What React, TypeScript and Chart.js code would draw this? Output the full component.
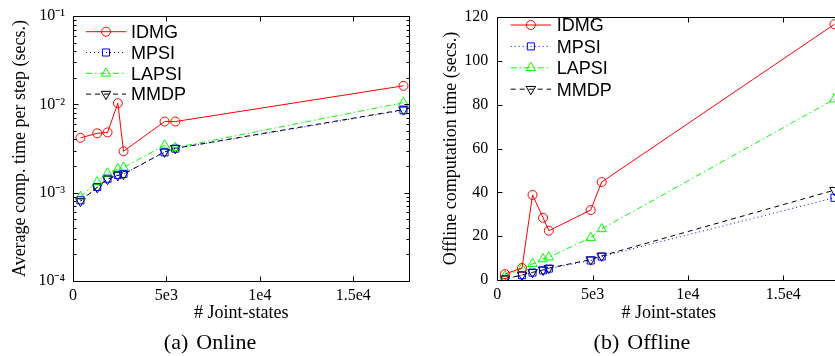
import React, { useEffect, useRef } from "react";
import { Chart, registerables } from "chart.js";
Chart.register(...registerables);

// ---------- data ----------
const jointStates = [400, 1296, 1849, 2401, 2704, 4900, 5476, 17689];
const seriesNames = ["IDMG", "MPSI", "LAPSI", "MMDP"];

const onlineIDMG = [0.00418, 0.0047, 0.00481, 0.0103, 0.00294, 0.00638, 0.00638, 0.0162];
const onlineMPSI = [0.00082, 0.00116, 0.00144, 0.00159, 0.00163, 0.00286, 0.00315, 0.00857];
const onlineLAPSI = [0.0009, 0.00132, 0.00166, 0.00185, 0.00193, 0.00344, 0.00323, 0.01045];
const onlineMMDP = [0.0008, 0.00115, 0.00142, 0.00157, 0.00162, 0.0029, 0.00318, 0.0087];

const offlineIDMG = [2.7, 5.5, 38.8, 28.4, 22.5, 31.9, 44.7, 116.7];
const offlineMPSI = [0.4, 2.2, 3.4, 4.4, 5.2, 8.9, 10.7, 37.5];
const offlineLAPSI = [1.8, 5.2, 7.4, 9.6, 10.4, 19.3, 23.3, 82.5];
const offlineMMDP = [0.5, 2.3, 3.5, 4.6, 5.4, 9.3, 11.0, 41.0];

const xTicks = [0, 5000, 10000, 15000];
const xTickLabels = ["0", "5e3", "1e4", "1.5e4"];
const logTicks = [1e-4, 1e-3, 1e-2, 1e-1];
const logTickLabels = ["10⁻⁴", "10⁻³", "10⁻²", "10⁻¹"];
const linTicks = [0, 20, 40, 60, 80, 100, 120];
const linTickLabels = ["0", "20", "40", "60", "80", "100", "120"];

const xTitle = "# Joint-states";
const onlineYTitle = "Average comp. time per step (secs.)";
const offlineYTitle = "Offline computation time (secs.)";
const onlineCaption = ["(a)", "Online"];
const offlineCaption = ["(b)", "Offline"];

// ---------- styles ----------
const seriesStyles = [
  { color: "rgb(255,0,0)", dash: [] as number[], point: "circle", radius: 4.5, rotation: 0 },
  { color: "rgb(0,0,255)", dash: [1, 3], point: "rect", radius: 5, rotation: 0 },
  { color: "rgb(0,255,0)", dash: [6, 3, 1.5, 3], point: "triangle", radius: 5.5, rotation: 0 },
  { color: "rgb(0,0,0)", dash: [5, 4], point: "triangle", radius: 5.5, rotation: 180 },
];

const serif = '"Liberation Serif", "Times New Roman", serif';
const sans = '"Liberation Sans", Arial, sans-serif';
const tickFont = { family: serif, size: 16, lineHeight: 1.0 };
const titleFont = { family: serif, size: 18, lineHeight: 1.2 };

function drawMarker(ctx: CanvasRenderingContext2D, kind: string, x: number, y: number, r: number, rot: number) {
  ctx.beginPath();
  if (kind === "circle") {
    ctx.arc(x, y, r, 0, Math.PI * 2);
  } else if (kind === "rect") {
    const s = Math.SQRT1_2 * r;
    ctx.rect(x - s, y - s, 2 * s, 2 * s);
  } else {
    let rad = (rot * Math.PI) / 180;
    ctx.moveTo(x + Math.sin(rad) * r, y - Math.cos(rad) * r);
    rad += (2 * Math.PI) / 3;
    ctx.lineTo(x + Math.sin(rad) * r, y - Math.cos(rad) * r);
    rad += (2 * Math.PI) / 3;
    ctx.lineTo(x + Math.sin(rad) * r, y - Math.cos(rad) * r);
    ctx.closePath();
  }
  ctx.stroke();
}

const framePlugin = {
  id: "frame",
  afterDatasetsDraw(chart: any) {
    const { ctx, chartArea: a, scales } = chart;
    ctx.save();
    ctx.strokeStyle = "#000";
    ctx.lineWidth = 1;
    ctx.setLineDash([]);
    const L = Math.round(a.left) + 0.5, R = Math.round(a.right) + 0.5;
    const T = Math.round(a.top) + 0.5, B = Math.round(a.bottom) + 0.5;
    ctx.beginPath();
    ctx.rect(L, T, R - L, B - T);
    const major = 5, minor = 3;
    scales.x.ticks.forEach((t: any) => {
      const px = Math.round(scales.x.getPixelForValue(t.value)) + 0.5;
      ctx.moveTo(px, B); ctx.lineTo(px, B - major);
      ctx.moveTo(px, T); ctx.lineTo(px, T + major);
    });
    const ys = scales.y;
    ys.ticks.forEach((t: any) => {
      const py = Math.round(ys.getPixelForValue(t.value)) + 0.5;
      ctx.moveTo(L, py); ctx.lineTo(L + major, py);
      ctx.moveTo(R, py); ctx.lineTo(R - major, py);
    });
    if (ys.type === "logarithmic") {
      for (let d = 0; d < logTicks.length - 1; d++) {
        for (let m = 2; m <= 9; m++) {
          const py = Math.round(ys.getPixelForValue(logTicks[d] * m)) + 0.5;
          ctx.moveTo(L, py); ctx.lineTo(L + minor, py);
          ctx.moveTo(R, py); ctx.lineTo(R - minor, py);
        }
      }
    }
    ctx.stroke();
    ctx.restore();
  },
};

const legendPlugin = {
  id: "inlegend",
  afterDraw(chart: any, _args: any, opts: any) {
    const { ctx } = chart;
    ctx.save();
    chart.data.datasets.forEach((ds: any, i: number) => {
      const st = seriesStyles[i];
      const y = opts.y + i * opts.spacing;
      ctx.strokeStyle = st.color;
      ctx.lineWidth = 1;
      ctx.setLineDash(st.dash);
      ctx.beginPath();
      ctx.moveTo(opts.x, y);
      ctx.lineTo(opts.x + opts.len, y);
      ctx.stroke();
      ctx.setLineDash([]);
      drawMarker(ctx, st.point, opts.x + opts.len / 2, y, st.radius, st.rotation);
      ctx.fillStyle = "#000";
      ctx.font = `18px ${sans}`;
      ctx.textBaseline = "alphabetic";
      ctx.textAlign = "left";
      ctx.fillText(ds.label, opts.x + opts.len + opts.gap, y + 6.3);
    });
    ctx.restore();
  },
};

function makeDatasets(series: number[][]) {
  return series.map((vals, i) => {
    const st = seriesStyles[i];
    return {
      label: seriesNames[i],
      data: vals.map((v, j) => ({ x: jointStates[j], y: v })),
      borderColor: st.color,
      borderWidth: 1,
      borderDash: st.dash,
      backgroundColor: "rgba(0,0,0,0)",
      pointStyle: st.point,
      pointRadius: st.radius,
      pointRotation: st.rotation,
      pointBorderColor: st.color,
      pointBackgroundColor: "rgba(0,0,0,0)",
      pointBorderWidth: 1,
      tension: 0,
      fill: false,
    };
  });
}

type ChartSpec = {
  width: number;
  height: number;
  series: number[][];
  log: boolean;
  yTitle: string;
  yWidth: number;
  yTitlePad: number;
  padTop: number;
  padRight: number;
  xHeight: number;
  legend: any;
};

function PlotCanvas({ spec }: { spec: ChartSpec }) {
  const ref = useRef<HTMLCanvasElement | null>(null);
  useEffect(() => {
    if (!ref.current) return;
    const yScale: any = spec.log
      ? {
          type: "logarithmic",
          min: 1e-4,
          max: 1e-1,
          afterBuildTicks: (s: any) => { s.ticks = logTicks.map((v) => ({ value: v })); },
          ticks: { callback: (_v: any, i: number) => logTickLabels[i], font: tickFont, color: "#000", padding: 8, autoSkip: false },
        }
      : {
          type: "linear",
          min: 0,
          max: 120,
          afterBuildTicks: (s: any) => { s.ticks = linTicks.map((v) => ({ value: v })); },
          ticks: { callback: (_v: any, i: number) => linTickLabels[i], font: tickFont, color: "#000", padding: 9, autoSkip: false },
        };
    Object.assign(yScale, {
      grid: { display: false, drawTicks: false },
      border: { display: false },
      title: { display: true, text: spec.yTitle, font: titleFont, color: "#000", padding: { top: spec.yTitlePad, bottom: 0 } },
      afterFit: (s: any) => { s.width = spec.yWidth; },
    });
    const chart = new Chart(ref.current, {
      type: "line",
      data: { datasets: makeDatasets(spec.series) as any },
      options: {
        responsive: false,
        animation: false,
        events: [],
        layout: { padding: { top: spec.padTop, right: spec.padRight, left: 0, bottom: 0 } },
        plugins: {
          legend: { display: false },
          tooltip: { enabled: false },
          inlegend: spec.legend,
        } as any,
        scales: {
          x: {
            type: "linear",
            min: 0,
            max: 18000,
            afterBuildTicks: (s: any) => { s.ticks = xTicks.map((v) => ({ value: v })); },
            ticks: { callback: (_v: any, i: number) => xTickLabels[i], font: tickFont, color: "#000", padding: 7, maxRotation: 0, autoSkip: false },
            grid: { display: false, drawTicks: false },
            border: { display: false },
            title: { display: true, text: xTitle, font: titleFont, color: "#000", padding: { top: 0, bottom: 6 } },
            afterFit: (s: any) => { s.height = spec.xHeight; },
          },
          y: yScale,
        },
      },
      plugins: [framePlugin, legendPlugin],
    });
    return () => chart.destroy();
  }, [spec]);
  return <canvas ref={ref} width={spec.width} height={spec.height} style={{ display: "block" }} />;
}

const onlineSpec: ChartSpec = {
  width: 420,
  height: 330,
  series: [onlineIDMG, onlineMPSI, onlineLAPSI, onlineMMDP],
  log: true,
  yTitle: onlineYTitle,
  yWidth: 73,
  yTitlePad: 9,
  padTop: 15,
  padRight: 10.7,
  xHeight: 49,
  legend: { x: 86, y: 31.7, spacing: 20.8, len: 40, gap: 5 },
};

const offlineSpec: ChartSpec = {
  width: 432,
  height: 330,
  series: [offlineIDMG, offlineMPSI, offlineLAPSI, offlineMMDP],
  log: false,
  yTitle: offlineYTitle,
  yWidth: 77.3,
  yTitlePad: 20.5,
  padTop: 10,
  padRight: 11.6,
  xHeight: 50,
  legend: { x: 90.7, y: 25, spacing: 21.4, len: 40.3, gap: 5.7 },
};

function Caption({ left, parts }: { left: number; parts: string[] }) {
  return (
    <div
      style={{
        position: "absolute",
        left,
        top: 329,
        width: 420,
        textAlign: "center",
        fontFamily: serif,
        fontSize: 22,
        lineHeight: "26px",
        color: "#000",
        whiteSpace: "nowrap",
      }}
    >
      {parts[0]}
      <span style={{ marginLeft: 8 }}>{parts[1]}</span>
    </div>
  );
}

export default function App() {
  useEffect(() => {
    document.body.style.margin = "0";
  }, []);
  return (
    <div style={{ position: "fixed", left: 0, top: 0, width: 835, height: 356, overflow: "hidden", background: "#fff" }}>
      <div style={{ position: "absolute", left: 0, top: 0 }}>
        <PlotCanvas spec={onlineSpec} />
      </div>
      <div style={{ position: "absolute", left: 420, top: 0 }}>
        <PlotCanvas spec={offlineSpec} />
      </div>
      <Caption left={0} parts={onlineCaption} />
      <Caption left={432} parts={offlineCaption} />
    </div>
  );
}
